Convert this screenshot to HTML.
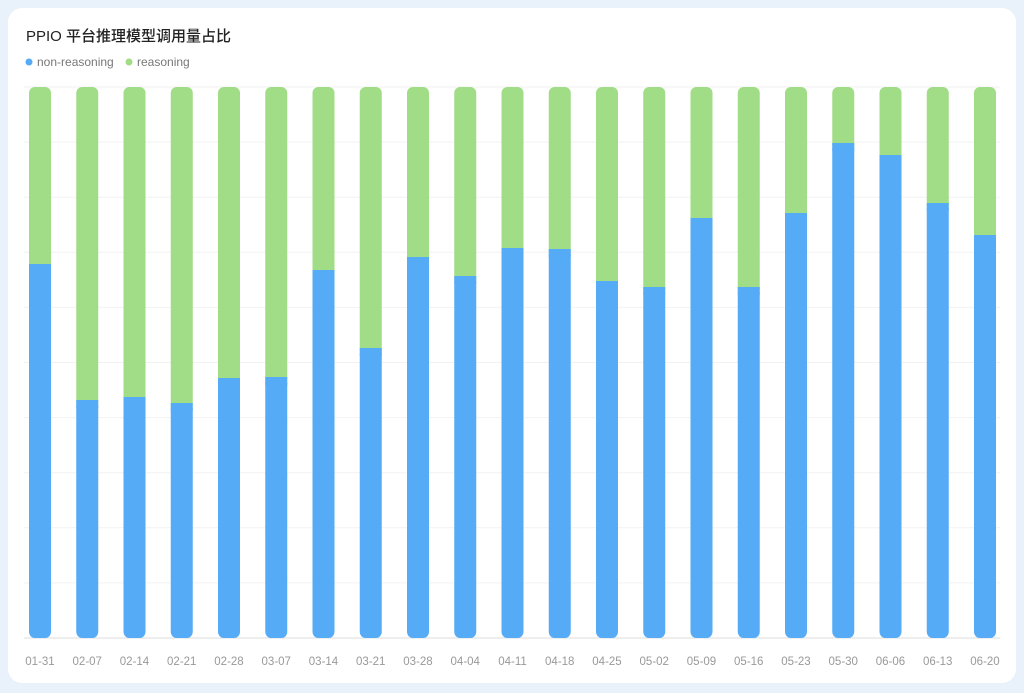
<!DOCTYPE html><html><head><meta charset="utf-8"><style>
body{margin:0;background:#e9f1fb;width:1024px;height:693px;overflow:hidden;font-family:"Liberation Sans","Noto Sans CJK SC",sans-serif}
.card{position:absolute;left:8px;top:8px;width:1008px;height:675px;background:#fff;border-radius:14px}
</style></head><body><div class="card"></div>
<svg width="1024" height="693" style="position:absolute;left:0;top:0" font-family="Liberation Sans, Noto Sans CJK SC, sans-serif">
<text x="26" y="41" font-size="15" fill="#222" font-weight="500">PPIO 平台推理模型调用量占比</text>
<circle cx="29" cy="62" r="3.5" fill="#55abf6"/><text x="37" y="66" font-size="12" fill="#777">non-reasoning</text>
<circle cx="129" cy="62" r="3.5" fill="#a1dc86"/><text x="137" y="66" font-size="12" fill="#777">reasoning</text>
<g id="g"></g>
</svg>
<script>
var tops=[264,400,397,403,378,377,270,348,257,276,248,249,281,287,218,287,213,143,155,203,235];
var labs=["01-31","02-07","02-14","02-21","02-28","03-07","03-14","03-21","03-28","04-04","04-11","04-18","04-25","05-02","05-09","05-16","05-23","05-30","06-06","06-13","06-20"];
var s="";
for(var i=0;i<=10;i++){var y=87+i*55.1;s+='<line x1="24" x2="1000" y1="'+y+'" y2="'+y+'" stroke="'+(i==10?'#ddd':'#f2f2f2')+'"/>';}
tops.forEach(function(t,i){var x=29+i*47.25;
s+='<rect x="'+x+'" y="87" width="22" height="'+(t-87+8)+'" rx="6" fill="#a1dc86"/>';
s+='<rect x="'+x+'" y="'+t+'" width="22" height="'+(638-t)+'" rx="6" fill="#55abf6"/>';
s+='<rect x="'+x+'" y="'+t+'" width="22" height="8" fill="#55abf6"/>';
s+='<text x="'+(x+11)+'" y="665" font-size="11.5" fill="#999" text-anchor="middle">'+labs[i]+'</text>';});
document.getElementById("g").innerHTML=s;
</script></body></html>
